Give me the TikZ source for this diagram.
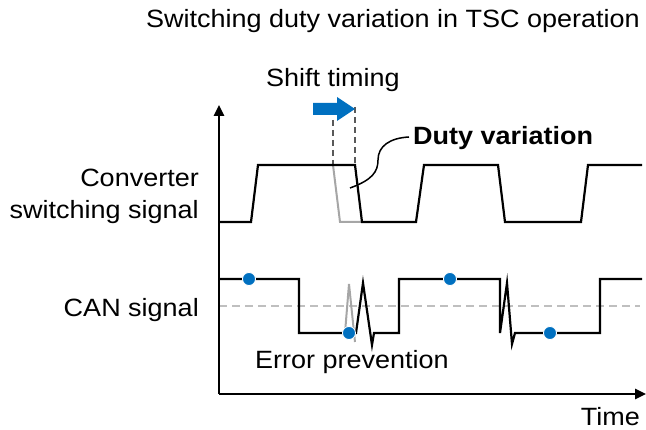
\documentclass[tikz,border=0pt]{standalone}
\usepackage{fontspec}
\setmainfont{Liberation Sans}[FakeStretch=1.08]
\usetikzlibrary{arrows.meta}
\definecolor{cblue}{HTML}{0070C0}
\definecolor{lgrey}{HTML}{A6A6A6}
\definecolor{dgrey}{HTML}{BFBFBF}
\definecolor{vgrey}{HTML}{595959}
\begin{document}
\begin{tikzpicture}[x=1pt,y=-1pt,
  lbl/.style={inner sep=0pt,font=\fontsize{25}{30}\selectfont},
  sig/.style={line width=2.2pt,line join=miter,black},
  ghost/.style={line width=2pt,lgrey},
  axisline/.style={line width=2.5pt,-{Triangle[length=11pt,width=10pt]}},
  dot/.style={circle,fill=cblue,draw=white,line width=0.8pt,inner sep=0pt,minimum size=13pt},
  vdash/.style={vgrey,line width=1.3pt,dash pattern=on 6pt off 4pt},
  hdash/.style={dgrey,line width=1.5pt,dash pattern=on 8pt off 5pt}]
\useasboundingbox (0,0) rectangle (646,430);
% texts
\node[lbl,anchor=base east] (title) at (640,28) {Switching duty variation in TSC operation};
\node[lbl,anchor=base] (shift) at (333,87) {Shift timing};
\node[lbl,anchor=base west,font=\fontsize{25}{30}\selectfont\bfseries] (duty) at (413,145) {Duty variation};
\node[lbl,anchor=base east] (conv) at (199,187) {Converter};
\node[lbl,anchor=base east] (sw) at (199,219) {switching signal};
\node[lbl,anchor=base east] (can) at (199,317) {CAN signal};
\node[lbl,anchor=base west] (err) at (255,369) {Error prevention};
\node[lbl,anchor=base east] (time) at (640,426) {Time};
% axes
\coordinate (o) at (219,394);
\coordinate (ytop) at (219,105);
\coordinate (xend) at (646,394);
\draw[hdash] (219,306) -- (640,306);
\draw[axisline] (o) -- (ytop);
\draw[axisline] (o) -- (xend);
% shift timing marks
\draw[vdash] (333,120) -- (333,165);
\draw[vdash] (355,107) -- (355,165);
\coordinate (atip) at (355,109);
\fill[cblue] (313,103) -- (337,103) -- (337,97) -- (atip) -- (337,121) -- (337,115) -- (313,115) -- cycle;
% converter ghost
\draw[ghost] (333,165) -- (340,222) -- (362,222);
% converter signal
\draw[sig] (220,222) -- (251,222) -- (258,165) -- (355,165) -- (362,222) -- (416,222)
  -- (424,165) -- (498,165) -- (505,222) -- (581,222) -- (588,165) -- (642,165);
% leader
\draw[line width=1.5pt] (350,188) .. controls (372,180) and (378,172) .. (378,160)
  .. controls (378,146) and (390,138) .. (409,137);
% CAN ghost spike
\draw[ghost] (345,333) -- (349,284) -- (355,342);
% CAN signal
\draw[sig] (220,279) -- (299,279) -- (299,333) -- (356,333) -- (363,283) -- (372,345)
  -- (374,333) -- (399,333) -- (399,279) -- (500,279) -- (500,333) -- (507,283)
  -- (512,344) -- (515,333) -- (600,333) -- (600,279) -- (642,279);
% dots
\node[dot] (d1) at (249,279) {};
\node[dot] (d2) at (349,333) {};
\node[dot] (d3) at (450,279) {};
\node[dot] (d4) at (550,333) {};
\end{tikzpicture}
\end{document}
